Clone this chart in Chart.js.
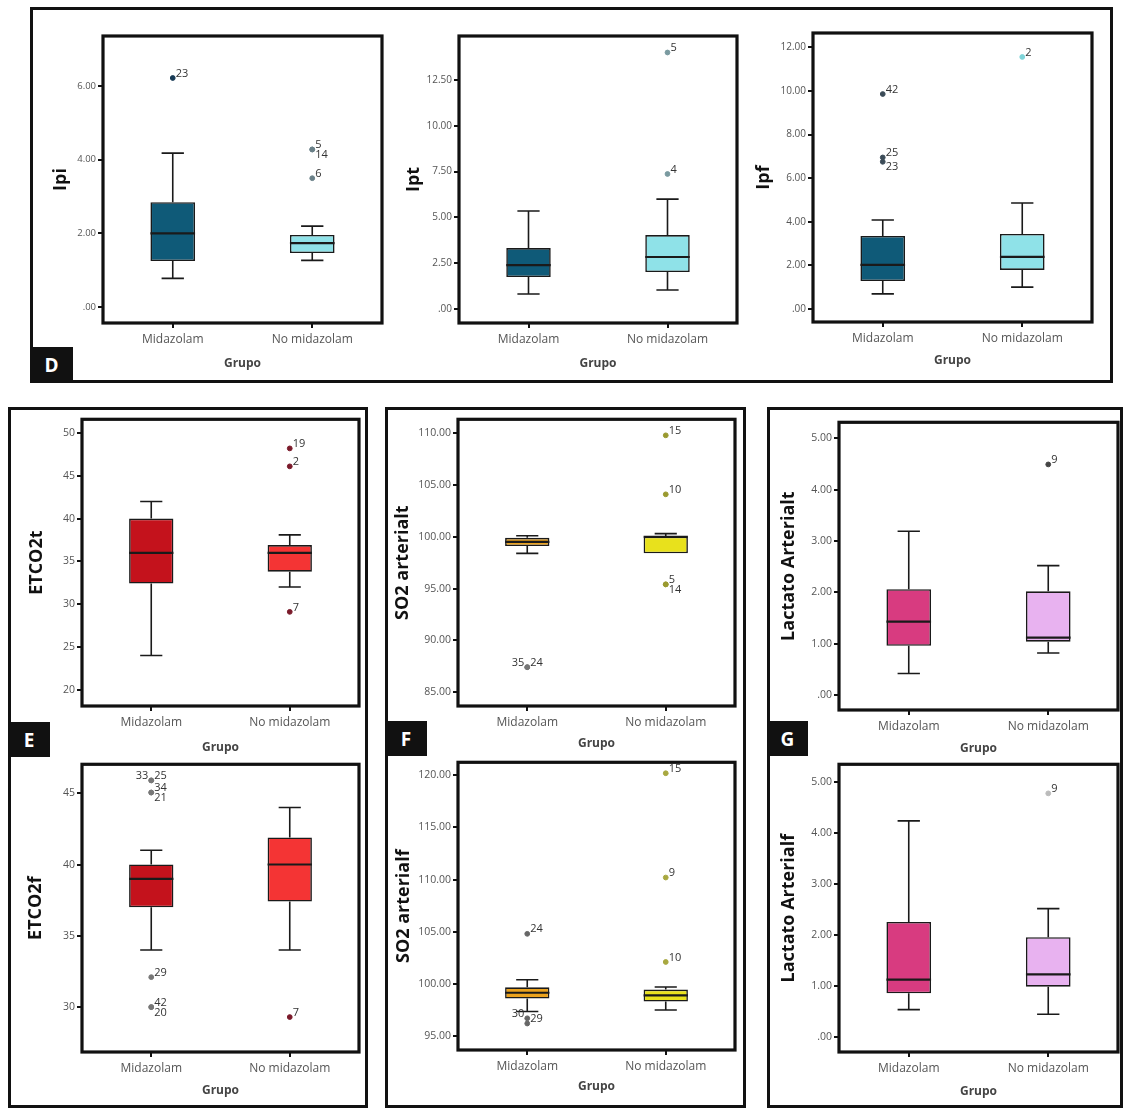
<!DOCTYPE html>
<html>
<head>
<meta charset="utf-8">
<script src="https://cdn.jsdelivr.net/npm/chart.js@4"></script>
<style>
  body { margin: 0; width: 1127px; height: 1110px; position: relative; overflow: hidden; background: #fff; }
  .marco { position: absolute; border: 3px solid #111; box-sizing: border-box; }
  .letra { position: absolute; background: #111; color: #fff; font: bold 19px "Open Sans", sans-serif;
           display: flex; align-items: center; justify-content: center; }
  canvas { position: absolute; }
</style>
</head>
<body>
<div class="marco" style="left:30px;top:7px;width:1083px;height:376px"></div>
<div class="marco" style="left:8px;top:407px;width:360px;height:701px"></div>
<div class="marco" style="left:385px;top:407px;width:361px;height:701px"></div>
<div class="marco" style="left:767px;top:407px;width:356px;height:701px"></div>
<div class="letra" style="left:30px;top:347px;width:43px;height:36px">D</div>
<div class="letra" style="left:8px;top:722px;width:42px;height:35px">E</div>
<div class="letra" style="left:385px;top:721px;width:42px;height:35px">F</div>
<div class="letra" style="left:767px;top:721px;width:41px;height:35px">G</div>

<script>
// boxplots SPSS: Midazolam vs No midazolam
const grupos = ['Midazolam', 'No midazolam'];

// caja por grupo: [mín, Q1, mediana, Q3, máx]
const ipiCaja = [[0.78, 1.25, 2.00, 2.85, 4.18], [1.27, 1.47, 1.74, 1.96, 2.20]];
const ipiAtipicos = [{g: 0, v: 6.22, id: '23'}, {g: 1, v: 4.28, id: '5'}, {g: 1, v: 4.28, id: '14'}, {g: 1, v: 3.50, id: '6'}];
const ipiTicks = [0, 2, 4, 6];

const iptCaja = [[0.82, 1.75, 2.40, 3.33, 5.35], [1.04, 2.02, 2.84, 4.04, 6.00]];
const iptAtipicos = [{g: 1, v: 14.0, id: '5'}, {g: 1, v: 7.37, id: '4'}];
const iptTicks = [0, 2.5, 5, 7.5, 10, 12.5];

const ipfCaja = [[0.69, 1.28, 2.02, 3.35, 4.08], [1.00, 1.79, 2.39, 3.44, 4.86]];
const ipfAtipicos = [{g: 0, v: 9.86, id: '42'}, {g: 0, v: 6.95, id: '25'}, {g: 0, v: 6.75, id: '23'}, {g: 1, v: 11.56, id: '2'}];
const ipfTicks = [0, 2, 4, 6, 8, 10, 12];

const etco2tCaja = [[24.0, 32.4, 36.0, 40.0, 42.0], [32.0, 33.8, 36.0, 36.9, 38.1]];
const etco2tAtipicos = [{g: 1, v: 48.2, id: '19'}, {g: 1, v: 46.1, id: '2'}, {g: 1, v: 29.1, id: '7'}];
const etco2tTicks = [20, 25, 30, 35, 40, 45, 50];

const etco2fCaja = [[34.0, 37.0, 39.0, 40.0, 41.0], [34.0, 37.4, 40.0, 41.9, 44.0]];
const etco2fAtipicos = [{g: 0, v: 45.9, id: '33'}, {g: 0, v: 45.9, id: '25'}, {g: 0, v: 45.05, id: '34'}, {g: 0, v: 45.05, id: '21'},
                        {g: 0, v: 32.1, id: '29'}, {g: 0, v: 30.0, id: '42'}, {g: 0, v: 30.0, id: '20'}, {g: 1, v: 29.3, id: '7'}];
const etco2fTicks = [30, 35, 40, 45];

const so2tCaja = [[98.4, 99.1, 99.5, 99.9, 100.1], [98.4, 98.4, 100.0, 100.0, 100.3]];
const so2tAtipicos = [{g: 0, v: 87.4, id: '35'}, {g: 0, v: 87.4, id: '24'}, {g: 1, v: 109.8, id: '15'}, {g: 1, v: 104.1, id: '10'},
                      {g: 1, v: 95.4, id: '5'}, {g: 1, v: 95.4, id: '14'}];
const so2tTicks = [85, 90, 95, 100, 105, 110];

const so2fCaja = [[97.35, 98.6, 99.15, 99.67, 100.4], [97.5, 98.3, 98.9, 99.45, 99.7]];
const so2fAtipicos = [{g: 0, v: 104.8, id: '24'}, {g: 0, v: 96.7, id: '30'}, {g: 0, v: 96.2, id: '29'},
                      {g: 1, v: 120.2, id: '15'}, {g: 1, v: 110.2, id: '9'}, {g: 1, v: 102.1, id: '10'}];
const so2fTicks = [95, 100, 105, 110, 115, 120];

const lactTCaja = [[0.42, 0.96, 1.43, 2.06, 3.19], [0.82, 1.04, 1.12, 2.02, 2.52]];
const lactTAtipicos = [{g: 1, v: 4.49, id: '9'}];
const lactTicks = [0, 1, 2, 3, 4, 5];

const lactFCaja = [[0.54, 0.86, 1.13, 2.26, 4.24], [0.45, 0.99, 1.23, 1.96, 2.52]];
const lactFAtipicos = [{g: 1, v: 4.78, id: '9'}];

// paneles: area = [izq, arriba, der, abajo] del área de trazado
const azul = ['#0f5a78', '#8fe2e8'], rojo = ['#c4121c', '#f43434'];
const amar = ['#eaa21e', '#e8e11c'], rosa = ['#d83b80', '#e8b2f0'];
const paneles = [
  {titulo: 'Ipi', caja: ipiCaja, atip: ipiAtipicos, ticks: ipiTicks, min: -0.43, max: 7.36, dec: 2, col: azul,
   colAtip: ['#173a55', '#6a8088'], area: [103, 36, 382, 323], tx: 61, gy: 363, abajo: ['14'], izq: [], tam: 9.5},
  {titulo: 'Ipt', caja: iptCaja, atip: iptAtipicos, ticks: iptTicks, min: -0.76, max: 14.9, dec: 2, col: azul,
   colAtip: ['#173a55', '#7a9aa0'], area: [459, 36, 737, 323], tx: 414, gy: 363, abajo: [], izq: [], tam: 10},
  {titulo: 'Ipf', caja: ipfCaja, atip: ipfAtipicos, ticks: ipfTicks, min: -0.6, max: 12.66, dec: 2, col: azul,
   colAtip: ['#3c4c58', '#7fd4d8'], area: [813, 33, 1092, 322], tx: 764, gy: 360, abajo: ['23'], izq: [], tam: 10},
  {titulo: 'ETCO2t', caja: etco2tCaja, atip: etco2tAtipicos, ticks: etco2tTicks, min: 18.1, max: 51.6, dec: 0, col: rojo,
   colAtip: ['#7a1a2a', '#7a1a2a'], area: [82, 419, 359, 706], tx: 37, gy: 747, abajo: [], izq: [], tam: 10.5},
  {titulo: 'SO2 arterialt', caja: so2tCaja, atip: so2tAtipicos, ticks: so2tTicks, min: 83.65, max: 111.35, dec: 2, col: amar,
   colAtip: ['#777', '#9a9a30'], area: [458, 419, 735, 706], tx: 403, gy: 743, abajo: ['14'], izq: ['35'], tam: 10.5},
  {titulo: 'Lactato Arterialt', caja: lactTCaja, atip: lactTAtipicos, ticks: lactTicks, min: -0.29, max: 5.31, dec: 2, col: rosa,
   colAtip: ['#444', '#444'], area: [839, 422, 1118, 710], tx: 789, gy: 748, abajo: [], izq: [], tam: 10.5},
  {titulo: 'ETCO2f', caja: etco2fCaja, atip: etco2fAtipicos, ticks: etco2fTicks, min: 26.85, max: 47.03, dec: 0, col: rojo,
   colAtip: ['#777', '#7a1a2a'], area: [82, 764, 359, 1052], tx: 36, gy: 1090, abajo: ['21', '20'], izq: ['33'], tam: 10.5},
  {titulo: 'SO2 arterialf', caja: so2fCaja, atip: so2fAtipicos, ticks: so2fTicks, min: 93.66, max: 121.25, dec: 2, col: amar,
   colAtip: ['#666', '#a8a840'], area: [458, 762, 735, 1050], tx: 404, gy: 1086, abajo: [], izq: ['30'], tam: 10.5},
  {titulo: 'Lactato Arterialf', caja: lactFCaja, atip: lactFAtipicos, ticks: lactTicks, min: -0.29, max: 5.35, dec: 2, col: rosa,
   colAtip: ['#444', '#bbb'], area: [839, 764, 1118, 1052], tx: 789, gy: 1091, abajo: [], izq: [], tam: 10.5}
];

Chart.defaults.font.family = '"Open Sans", "Liberation Sans", sans-serif';
const TAM_TITULO = 18;

// formato SPSS: ".00", "2.50"
function fmt(v, dec) {
  if (dec === 0) return String(v);
  let s = v.toFixed(dec);
  if (s.startsWith('0.')) s = s.slice(1);
  return s;
}

function pluginCaja(p) {
  return {
    id: 'caja',
    beforeDatasetsDraw(chart) {
      const ctx = chart.ctx, y = chart.scales.y, meta = chart.getDatasetMeta(0);
      ctx.save();
      ctx.strokeStyle = '#1a1a1a';
      ctx.lineWidth = 1.6;
      p.caja.forEach((c, i) => {
        const bar = meta.data[i], x = bar.x, w = bar.width / 4;
        const lo = y.getPixelForValue(c[0]), q1 = y.getPixelForValue(c[1]);
        const q3 = y.getPixelForValue(c[3]), hi = y.getPixelForValue(c[4]);
        ctx.beginPath();
        ctx.moveTo(x, q1); ctx.lineTo(x, lo);
        ctx.moveTo(x, q3); ctx.lineTo(x, hi);
        if (c[0] < c[1]) { ctx.moveTo(x - w, lo); ctx.lineTo(x + w, lo); }
        if (c[4] > c[3]) { ctx.moveTo(x - w, hi); ctx.lineTo(x + w, hi); }
        ctx.stroke();
      });
      ctx.restore();
    },
    afterDatasetsDraw(chart) {
      const ctx = chart.ctx, y = chart.scales.y, ca = chart.chartArea;
      const meta = chart.getDatasetMeta(0), puntos = chart.getDatasetMeta(1);
      ctx.save();
      // medianas
      ctx.strokeStyle = '#1a1a1a';
      ctx.lineWidth = 2.2;
      p.caja.forEach((c, i) => {
        const bar = meta.data[i], ym = y.getPixelForValue(c[2]);
        ctx.beginPath();
        ctx.moveTo(bar.x - bar.width / 2, ym);
        ctx.lineTo(bar.x + bar.width / 2, ym);
        ctx.stroke();
      });
      // marco del área
      ctx.lineWidth = 3.2;
      ctx.strokeStyle = '#111';
      ctx.strokeRect(ca.left, ca.top, ca.right - ca.left, ca.bottom - ca.top);
      // etiquetas de casos atípicos
      ctx.fillStyle = '#333';
      ctx.font = '11px "Open Sans", "Liberation Sans", sans-serif';
      p.atip.forEach((o, i) => {
        const pt = puntos.data[i];
        if (p.izq.includes(o.id)) {
          ctx.textAlign = 'right'; ctx.textBaseline = 'bottom';
          ctx.fillText(o.id, pt.x - 3, pt.y + 1);
        } else if (p.abajo.includes(o.id)) {
          ctx.textAlign = 'left'; ctx.textBaseline = 'top';
          ctx.fillText(o.id, pt.x + 3, pt.y);
        } else {
          ctx.textAlign = 'left'; ctx.textBaseline = 'bottom';
          ctx.fillText(o.id, pt.x + 3, pt.y + 1);
        }
      });
      ctx.restore();
    }
  };
}

paneles.forEach(p => {
  const [L, T, R, B] = p.area;
  const izq = Math.round(p.tx - 3 - TAM_TITULO * 0.6);
  const arriba = T - 8, der = R + 8, fondo = Math.round(p.gy + 10);
  const cv = document.createElement('canvas');
  cv.width = der - izq;
  cv.height = fondo - arriba;
  cv.style.left = izq + 'px';
  cv.style.top = arriba + 'px';
  document.body.appendChild(cv);

  const marcas = { display: true, offset: false, drawOnChartArea: false, drawTicks: true, tickLength: 5, color: '#111', lineWidth: 2 };

  new Chart(cv, {
    type: 'bar',
    data: {
      labels: grupos,
      datasets: [
        {
          type: 'bar',
          data: p.caja.map(c => [c[1], c[3]]),
          backgroundColor: p.col,
          borderColor: '#1a1a1a',
          borderWidth: 1.6,
          borderSkipped: false,
          barPercentage: 0.32,
          categoryPercentage: 1,
          order: 2
        },
        {
          type: 'scatter',
          data: p.atip.map(o => ({x: grupos[o.g], y: o.v})),
          pointRadius: 2.4,
          pointBorderWidth: 1,
          pointBorderColor: ctx => p.colAtip[p.atip[ctx.dataIndex].g],
          pointBackgroundColor: ctx => p.colAtip[p.atip[ctx.dataIndex].g],
          order: 1
        }
      ]
    },
    options: {
      responsive: false,
      animation: false,
      devicePixelRatio: 1,
      layout: { padding: { left: 0, top: 8, right: 8, bottom: 0 } },
      plugins: { legend: { display: false }, tooltip: { enabled: false } },
      scales: {
        x: {
          type: 'category',
          offset: true,
          grid: marcas,
          border: { display: false },
          ticks: { color: '#555', font: { size: 12 }, padding: 4 },
          title: { display: true, text: 'Grupo', color: '#444', font: { size: 12, weight: 'bold' }, padding: { top: 0, bottom: 2 } },
          afterFit: s => { s.height = fondo - B; }
        },
        y: {
          min: p.min,
          max: p.max,
          afterBuildTicks: s => { s.ticks = p.ticks.map(v => ({ value: v })); },
          grid: marcas,
          border: { display: false },
          ticks: { color: '#555', font: { size: p.tam }, padding: 2, callback: v => fmt(v, p.dec) },
          title: { display: true, text: p.titulo, color: '#111', font: { size: TAM_TITULO, weight: 'bold' }, padding: { top: 3, bottom: 0 } },
          afterFit: s => { s.width = L - izq; }
        }
      }
    },
    plugins: [pluginCaja(p)]
  });
});
</script>
</body>
</html>
